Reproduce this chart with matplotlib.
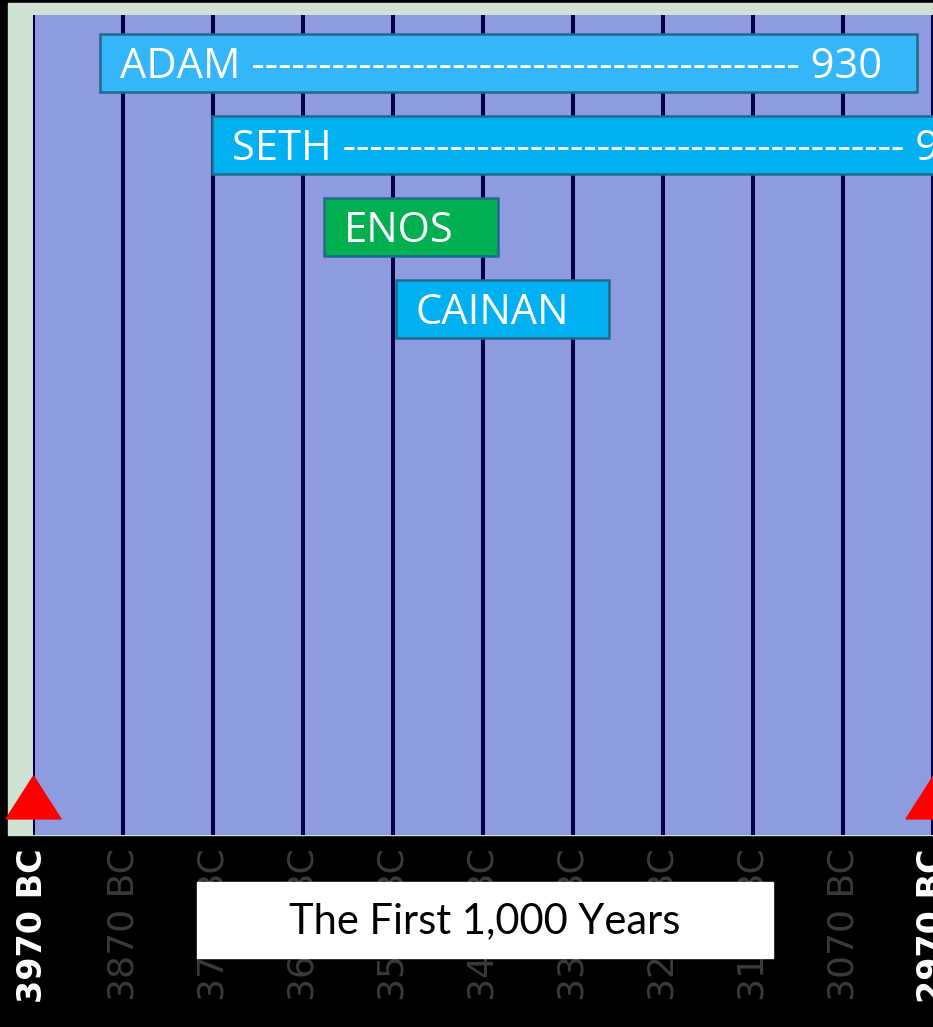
import numpy as np
import matplotlib.pyplot as plt
from matplotlib.patches import Rectangle
from matplotlib.transforms import blended_transform_factory

# timeline data: years counted from 3970 BC, as drawn on the slide
names = ["ADAM", "SETH", "ENOS", "CAINAN"]
start_year = [74, 199, 323, 403]
end_year = [982, 1111, 517, 640]
lifespan = ["930", "912", "", ""]
bar_colors = ["#35b5fa", "#00b0f0", "#00b050", "#00b0f0"]
n_dashes = [41, 42, 0, 0]

tick_years = list(range(0, 1001, 100))
tick_labels = ["3970 BC", "3870 BC", "3770 BC", "3670 BC", "3570 BC", "3470 BC",
               "3370 BC", "3270 BC", "3170 BC", "3070 BC", "2970 BC"]
title = "The First 1,000 Years"

W, H = 933, 1027
fig = plt.figure(figsize=(W / 100, H / 100), dpi=100, facecolor="black")

# pale frame around the chart area
fig.add_artist(Rectangle((8 / W, 1 - 835 / H), (W - 8) / W, 832 / H,
                         transform=fig.transFigure, color="#cfe1d2", zorder=-1))

ax = fig.add_axes([33 / W, 1 - 835 / H, 900 / W, 820 / H])
ax.set_facecolor("#8e9be0")
ax.set_xlim(0, 1000)
ax.set_ylim(9.415, -0.585)
for s in ax.spines.values():
    s.set_visible(False)
ax.set_yticks([])

for x in tick_years:
    ax.axvline(x, color="#00004a", lw=2.9, zorder=1)

rows = np.arange(len(names))
widths = [e - s for s, e in zip(start_year, end_year)]
ax.barh(rows, widths, left=start_year, height=0.707, color=bar_colors,
        edgecolor="#1f6a8a", linewidth=1.8, zorder=3)

for i, name in enumerate(names):
    label = name
    if lifespan[i]:
        label = name + " " + "-" * n_dashes[i] + " " + lifespan[i]
    ax.annotate(label, xy=(start_year[i], rows[i]), xytext=(14.4, -3),
                textcoords="offset points", ha="left", va="center",
                color="white", fontsize=30, family="Open Sans", zorder=4,
                annotation_clip=False)

# red markers at both ends of the millennium
tri = [(-1, -0.78), (1, -0.78), (0, 0.78), (-1, -0.78)]
trans = blended_transform_factory(ax.transData, ax.transAxes)
ax.plot([0, 1000], [0.046, 0.046], ls="none", marker=tri, ms=39.6,
        color="#ff0000", transform=trans, clip_on=False, zorder=5)

ax.set_xticks(tick_years)
ax.set_xticklabels(tick_labels, rotation=90, family="DejaVu Sans")
ax.tick_params(axis="x", length=0, pad=9.4)
for i, t in enumerate(ax.get_xticklabels()):
    if i in (0, len(tick_labels) - 1):
        t.set_color("white")
        t.set_fontsize(24)
        t.set_fontweight("bold")
    else:
        t.set_color("#3a3a3a")
        t.set_fontsize(26)

# title box over the axis labels
fig.add_artist(Rectangle((197 / W, 1 - 958 / H), 576 / W, 76 / H,
                         transform=fig.transFigure, color="white", zorder=5))
fig.text(485 / W, 1 - 921 / H, title, ha="center", va="center", fontsize=30,
         family="Lato", color="black", zorder=6)

fig.savefig("out.png", dpi=100, facecolor="black")
